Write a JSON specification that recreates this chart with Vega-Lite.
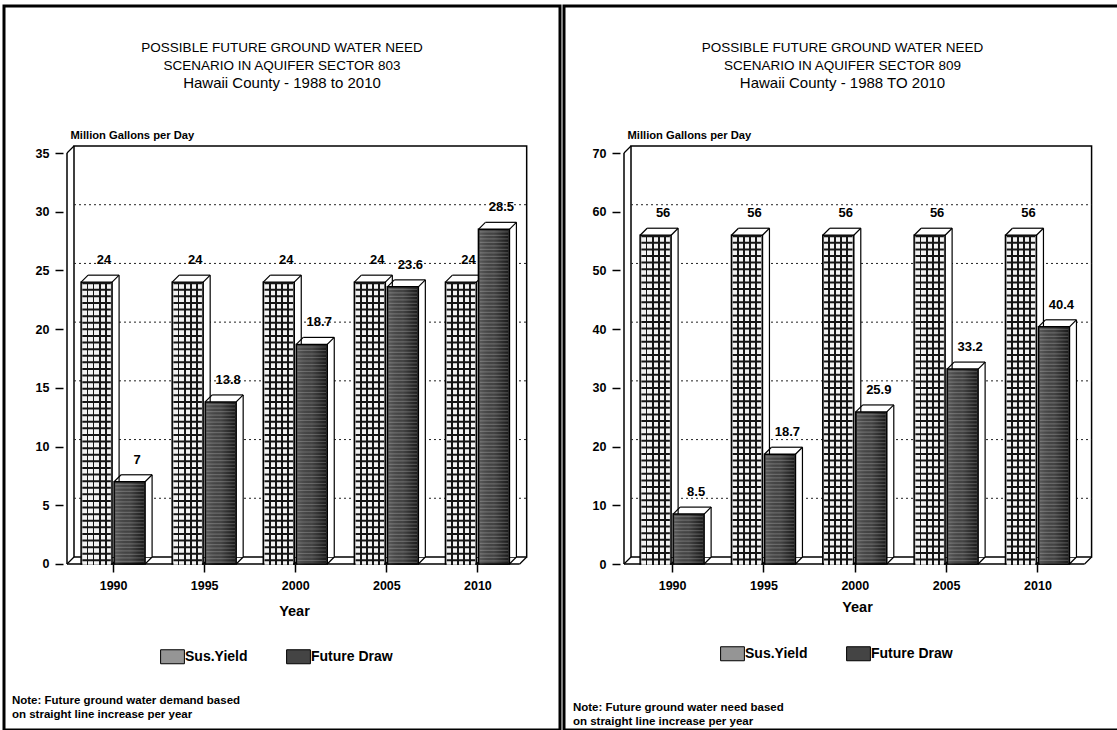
{
  "$schema": "https://vega.github.io/schema/vega-lite/v6.json",
  "background": "white",
  "padding": {"left": 2, "top": 4, "right": 0, "bottom": 0},
  "resolve": {"scale": {"color": "independent"}, "legend": {"color": "independent"}},
  "config": {
    "font": "Liberation Sans",
    "view": {"stroke": "black", "strokeWidth": 3},
    "concat": {"spacing": 0},
    "title": {
      "font": "Liberation Sans", "fontSize": 13.5, "fontWeight": "normal", "color": "black",
      "subtitleFont": "Liberation Sans", "subtitleFontSize": 15, "subtitleColor": "black",
      "anchor": "middle", "frame": "group", "offset": -85, "lineHeight": 18, "subtitlePadding": 4
    },
    "axis": {
      "labelFont": "Liberation Sans", "labelFontWeight": "bold", "labelColor": "black", "labelFontSize": 12.5,
      "titleFont": "Liberation Sans", "titleFontWeight": "bold", "titleColor": "black",
      "tickColor": "black", "tickWidth": 1.5, "tickSize": 8, "domain": false, "grid": false
    },
    "legend": {
      "labelFont": "Liberation Sans", "labelFontWeight": "bold", "labelColor": "black", "labelFontSize": 14
    }
  },
  "datasets": {
    "sector803": [
      {"year": 1990, "series": "Sus.Yield", "value": 24},
      {"year": 1990, "series": "Future Draw", "value": 7},
      {"year": 1995, "series": "Sus.Yield", "value": 24},
      {"year": 1995, "series": "Future Draw", "value": 13.8},
      {"year": 2000, "series": "Sus.Yield", "value": 24},
      {"year": 2000, "series": "Future Draw", "value": 18.7},
      {"year": 2005, "series": "Sus.Yield", "value": 24},
      {"year": 2005, "series": "Future Draw", "value": 23.6},
      {"year": 2010, "series": "Sus.Yield", "value": 24},
      {"year": 2010, "series": "Future Draw", "value": 28.5}
    ],
    "sector809": [
      {"year": 1990, "series": "Sus.Yield", "value": 56},
      {"year": 1990, "series": "Future Draw", "value": 8.5},
      {"year": 1995, "series": "Sus.Yield", "value": 56},
      {"year": 1995, "series": "Future Draw", "value": 18.7},
      {"year": 2000, "series": "Sus.Yield", "value": 56},
      {"year": 2000, "series": "Future Draw", "value": 25.9},
      {"year": 2005, "series": "Sus.Yield", "value": 56},
      {"year": 2005, "series": "Future Draw", "value": 33.2},
      {"year": 2010, "series": "Sus.Yield", "value": 56},
      {"year": 2010, "series": "Future Draw", "value": 40.4}
    ],
    "grid803": [{"value": 5}, {"value": 10}, {"value": 15}, {"value": 20}, {"value": 25}, {"value": 30}],
    "grid809": [{"value": 10}, {"value": 20}, {"value": 30}, {"value": 40}, {"value": 50}, {"value": 60}],
    "one": [{}]
  },
  "hconcat": [
    {
      "width": 556,
      "height": 724,
      "title": {
        "text": ["POSSIBLE FUTURE GROUND WATER NEED", "SCENARIO IN AQUIFER SECTOR 803"],
        "subtitle": "Hawaii County - 1988 to 2010"
      },
      "layer": [
        {
          "data": {"name": "one"},
          "mark": {"type": "rect", "fill": "white", "stroke": "black", "strokeWidth": 1.5,
                   "xOffset": 7, "x2Offset": 7, "yOffset": -7, "y2Offset": -7},
          "encoding": {"x": {"datum": 1987.47, "type": "quantitative"}, "x2": {"datum": 2012.32},
                       "y": {"datum": 0, "type": "quantitative"}, "y2": {"datum": 35}}
        },
        {
          "data": {"name": "grid803"},
          "mark": {"type": "rule", "stroke": "#222", "strokeWidth": 1, "strokeDash": [2, 3],
                   "xOffset": 7, "x2Offset": 7, "yOffset": -7},
          "encoding": {"x": {"datum": 1987.47, "type": "quantitative"}, "x2": {"datum": 2012.32},
                       "y": {"field": "value", "type": "quantitative"}}
        },
        {
          "data": {"name": "one"},
          "mark": {"type": "rule", "stroke": "black", "strokeWidth": 1.5},
          "encoding": {"x": {"datum": 1987.47, "type": "quantitative"},
                       "y": {"datum": 0, "type": "quantitative"}, "y2": {"datum": 35}}
        },
        {
          "data": {"name": "one"},
          "mark": {"type": "rule", "stroke": "black", "strokeWidth": 1.5},
          "encoding": {"x": {"datum": 1987.47, "type": "quantitative"}, "x2": {"datum": 2012.32},
                       "y": {"datum": 0, "type": "quantitative"}}
        },
        {
          "data": {"name": "one"},
          "mark": {"type": "rule", "stroke": "black", "strokeWidth": 1.2, "x2Offset": 7, "y2Offset": -7},
          "encoding": {"x": {"datum": 1987.47, "type": "quantitative"}, "x2": {"datum": 1987.47},
                       "y": {"datum": 35, "type": "quantitative"}, "y2": {"datum": 35}}
        },
        {
          "data": {"name": "one"},
          "mark": {"type": "rule", "stroke": "black", "strokeWidth": 1.2, "x2Offset": 7, "y2Offset": -7},
          "encoding": {"x": {"datum": 1987.47, "type": "quantitative"}, "x2": {"datum": 1987.47},
                       "y": {"datum": 0, "type": "quantitative"}, "y2": {"datum": 0}}
        },
        {
          "data": {"name": "one"},
          "mark": {"type": "rule", "stroke": "black", "strokeWidth": 1.2, "x2Offset": 7, "y2Offset": -7},
          "encoding": {"x": {"datum": 2012.32, "type": "quantitative"}, "x2": {"datum": 2012.32},
                       "y": {"datum": 0, "type": "quantitative"}, "y2": {"datum": 0}}
        },
        {
          "data": {"name": "sector803"},
          "transform": [{"filter": "datum.series === 'Sus.Yield'"}],
          "mark": {"type": "rule", "stroke": "black", "strokeWidth": 1.2, "xOffset": -1, "x2Offset": 6, "y2Offset": -7},
          "encoding": {"x": {"field": "year", "type": "quantitative"}, "x2": {"field": "year"},
                       "y": {"datum": 0, "type": "quantitative"}, "y2": {"datum": 0}}
        },
        {
          "data": {"name": "sector803"},
          "transform": [{"filter": "datum.series === 'Future Draw'"}],
          "mark": {"type": "rule", "stroke": "black", "strokeWidth": 1.2, "xOffset": 32, "x2Offset": 39, "y2Offset": -7},
          "encoding": {"x": {"field": "year", "type": "quantitative"}, "x2": {"field": "year"},
                       "y": {"datum": 0, "type": "quantitative"}, "y2": {"datum": 0}}
        },
        {
          "data": {"name": "sector803"},
          "encoding": {
            "x": {
              "field": "year", "type": "quantitative",
              "scale": {"domain": [1984.286, 2014.259], "nice": false, "zero": false},
              "axis": {
                "values": [1990, 1995, 2000, 2005, 2010], "format": "d", "offset": -166,
                "labelPadding": 7, "labelFlush": false,
                "title": "Year", "titleFontSize": 14.5, "titleX": 290, "titleY": 47, "titleBaseline": "middle"
              }
            },
            "y": {
              "field": "value", "type": "quantitative",
              "scale": {"domain": [-14.14, 47.52], "nice": false, "zero": false},
              "axis": {
                "values": [0, 5, 10, 15, 20, 25, 30, 35], "offset": -59, "labelPadding": 6,
                "title": "Million Gallons per Day", "titleFontSize": 11.2, "titleAngle": 0,
                "titleAlign": "left", "titleBaseline": "alphabetic", "titleX": 7, "titleY": 132
              }
            }
          },
          "layer": [
            {
              "transform": [{"filter": "datum.series === 'Sus.Yield'"}],
              "mark": {"type": "bar", "width": 31, "fill": "white", "strokeWidth": 0,
                       "xOffset": -9.5, "yOffset": -7, "y2Offset": -7}
            },
            {
              "transform": [{"filter": "datum.series === 'Sus.Yield'"}],
              "mark": {"type": "rule", "stroke": "black", "strokeWidth": 1.2, "xOffset": -25, "x2Offset": 6, "yOffset": -7, "y2Offset": -7},
              "encoding": {"x2": {"field": "year"}, "y2": {"field": "value"}}
            },
            {
              "transform": [{"filter": "datum.series === 'Sus.Yield'"}],
              "mark": {"type": "rule", "stroke": "black", "strokeWidth": 1.2, "xOffset": 6, "yOffset": -7, "y2Offset": -7},
              "encoding": {"y2": {"datum": 0}}
            },
            {
              "transform": [{"filter": "datum.series === 'Sus.Yield'"}],
              "mark": {"type": "rule", "stroke": "black", "strokeWidth": 1.2, "xOffset": -32, "x2Offset": -25, "y2Offset": -7},
              "encoding": {"x2": {"field": "year"}, "y2": {"field": "value"}}
            },
            {
              "transform": [{"filter": "datum.series === 'Sus.Yield'"}],
              "mark": {"type": "rule", "stroke": "black", "strokeWidth": 1.2, "xOffset": -1, "x2Offset": 6, "y2Offset": -7},
              "encoding": {"x2": {"field": "year"}, "y2": {"field": "value"}}
            },
            {
              "transform": [{"filter": "datum.series === 'Sus.Yield'"}],
              "mark": {"type": "bar", "width": 31, "stroke": "black", "strokeWidth": 1.5, "xOffset": -16.5},
              "encoding": {
                "color": {
                  "field": "series", "type": "nominal",
                  "scale": {"domain": ["Sus.Yield", "Future Draw"], "range": ["#959595", "#444444"]},
                  "legend": {
                    "orient": "none", "legendX": 161, "legendY": 643, "direction": "horizontal", "title": null,
                    "symbolType": "M-1.7,-1H1.7V1H-1.7Z", "symbolSize": 196, "symbolStrokeColor": "black",
                    "symbolStrokeWidth": 1, "columnPadding": 36, "labelOffset": 5
                  }
                }
              }
            },
            {
              "transform": [{"filter": "datum.series === 'Sus.Yield'"}],
              "mark": {"type": "bar", "width": 28.5, "xOffset": -16.5, "yOffset": 0.8,
                       "fill": {"gradient": "linear", "x1": 0, "y1": 0, "x2": 1, "y2": 0,
                                "stops": [{"offset": 0, "color": "#f2f2f2"}, {"offset": 0.148, "color": "#f2f2f2"},
                                          {"offset": 0.148, "color": "#151515"}, {"offset": 0.213, "color": "#151515"},
                                          {"offset": 0.213, "color": "#f2f2f2"}, {"offset": 0.361, "color": "#f2f2f2"},
                                          {"offset": 0.361, "color": "#151515"}, {"offset": 0.426, "color": "#151515"},
                                          {"offset": 0.426, "color": "#f2f2f2"}, {"offset": 0.574, "color": "#f2f2f2"},
                                          {"offset": 0.574, "color": "#151515"}, {"offset": 0.639, "color": "#151515"},
                                          {"offset": 0.639, "color": "#f2f2f2"}, {"offset": 0.787, "color": "#f2f2f2"},
                                          {"offset": 0.787, "color": "#151515"}, {"offset": 0.852, "color": "#151515"},
                                          {"offset": 0.852, "color": "#f2f2f2"}, {"offset": 1, "color": "#f2f2f2"}]}}
            },
            {
              "transform": [{"filter": "datum.series === 'Sus.Yield'"}],
              "mark": {"type": "rule", "stroke": "#151515", "strokeWidth": 28.5, "strokeCap": "butt",
                       "strokeDash": [2, 4.6], "xOffset": -16.5},
              "encoding": {"y2": {"datum": 0}}
            },
            {
              "transform": [{"filter": "datum.series === 'Future Draw'"}],
              "mark": {"type": "bar", "width": 31, "fill": "white", "strokeWidth": 0,
                       "xOffset": 23.5, "yOffset": -7, "y2Offset": -7}
            },
            {
              "transform": [{"filter": "datum.series === 'Future Draw'"}],
              "mark": {"type": "rule", "stroke": "black", "strokeWidth": 1.2, "xOffset": 8, "x2Offset": 39, "yOffset": -7, "y2Offset": -7},
              "encoding": {"x2": {"field": "year"}, "y2": {"field": "value"}}
            },
            {
              "transform": [{"filter": "datum.series === 'Future Draw'"}],
              "mark": {"type": "rule", "stroke": "black", "strokeWidth": 1.2, "xOffset": 39, "yOffset": -7, "y2Offset": -7},
              "encoding": {"y2": {"datum": 0}}
            },
            {
              "transform": [{"filter": "datum.series === 'Future Draw'"}],
              "mark": {"type": "rule", "stroke": "black", "strokeWidth": 1.2, "xOffset": 1, "x2Offset": 8, "y2Offset": -7},
              "encoding": {"x2": {"field": "year"}, "y2": {"field": "value"}}
            },
            {
              "transform": [{"filter": "datum.series === 'Future Draw'"}],
              "mark": {"type": "rule", "stroke": "black", "strokeWidth": 1.2, "xOffset": 32, "x2Offset": 39, "y2Offset": -7},
              "encoding": {"x2": {"field": "year"}, "y2": {"field": "value"}}
            },
            {
              "transform": [{"filter": "datum.series === 'Future Draw'"}],
              "mark": {"type": "bar", "width": 31, "stroke": "black", "strokeWidth": 1.5, "xOffset": 16.5},
              "encoding": {
                "color": {
                  "field": "series", "type": "nominal",
                  "scale": {"domain": ["Sus.Yield", "Future Draw"], "range": ["#959595", "#444444"]},
                  "legend": {
                    "orient": "none", "legendX": 161, "legendY": 643, "direction": "horizontal", "title": null,
                    "symbolType": "M-1.7,-1H1.7V1H-1.7Z", "symbolSize": 196, "symbolStrokeColor": "black",
                    "symbolStrokeWidth": 1, "columnPadding": 36, "labelOffset": 5
                  }
                }
              }
            },
            {
              "transform": [{"filter": "datum.series === 'Future Draw'"}],
              "mark": {"type": "bar", "width": 28.5, "xOffset": 16.5, "yOffset": 0.8,
                       "fill": {"gradient": "linear", "x1": 0, "y1": 0, "x2": 1, "y2": 0,
                                "stops": [{"offset": 0, "color": "rgba(255,255,255,0.12)"},
                                          {"offset": 0.5, "color": "rgba(0,0,0,0)"},
                                          {"offset": 1, "color": "rgba(0,0,0,0.6)"}]}}
            },
            {
              "transform": [{"filter": "datum.series === 'Future Draw'"}],
              "mark": {"type": "rule", "stroke": "rgba(255,255,255,0.2)", "strokeWidth": 28.5, "strokeCap": "butt",
                       "strokeDash": [1.2, 2.3], "xOffset": 16.5, "yOffset": 2},
              "encoding": {"y2": {"datum": 0}}
            },
            {
              "transform": [{"filter": "datum.series === 'Sus.Yield'"}],
              "mark": {"type": "text", "font": "Liberation Sans", "fontWeight": "bold", "fontSize": 13,
                       "baseline": "bottom", "xOffset": -9, "yOffset": -15, "color": "black"},
              "encoding": {"text": {"field": "value", "type": "quantitative"}}
            },
            {
              "transform": [{"filter": "datum.series === 'Future Draw'"}],
              "mark": {"type": "text", "font": "Liberation Sans", "fontWeight": "bold", "fontSize": 13,
                       "baseline": "bottom", "xOffset": 24, "yOffset": -15, "color": "black"},
              "encoding": {"text": {"field": "value", "type": "quantitative"}}
            }
          ]
        },
        {
          "data": {"name": "one"},
          "mark": {"type": "text", "font": "Liberation Sans", "fontWeight": "bold", "fontSize": 11.5,
                   "align": "left", "baseline": "top", "lineHeight": 14, "color": "black"},
          "encoding": {
            "x": {"datum": 1984.448, "type": "quantitative"}, "y": {"datum": -11.16, "type": "quantitative"},
            "text": {"value": ["Note: Future ground water demand based", "on straight line increase per year"]}
          }
        }
      ]
    },
    {
      "width": 557,
      "height": 724,
      "title": {
        "text": ["POSSIBLE FUTURE GROUND WATER NEED", "SCENARIO IN AQUIFER SECTOR 809"],
        "subtitle": "Hawaii County - 1988 TO 2010"
      },
      "layer": [
        {
          "data": {"name": "one"},
          "mark": {"type": "rect", "fill": "white", "stroke": "black", "strokeWidth": 1.5,
                   "xOffset": 7, "x2Offset": 7, "yOffset": -7, "y2Offset": -7},
          "encoding": {"x": {"datum": 1987.366, "type": "quantitative"}, "x2": {"datum": 2012.58},
                       "y": {"datum": 0, "type": "quantitative"}, "y2": {"datum": 70}}
        },
        {
          "data": {"name": "grid809"},
          "mark": {"type": "rule", "stroke": "#222", "strokeWidth": 1, "strokeDash": [2, 3],
                   "xOffset": 7, "x2Offset": 7, "yOffset": -7},
          "encoding": {"x": {"datum": 1987.366, "type": "quantitative"}, "x2": {"datum": 2012.58},
                       "y": {"field": "value", "type": "quantitative"}}
        },
        {
          "data": {"name": "one"},
          "mark": {"type": "rule", "stroke": "black", "strokeWidth": 1.5},
          "encoding": {"x": {"datum": 1987.366, "type": "quantitative"},
                       "y": {"datum": 0, "type": "quantitative"}, "y2": {"datum": 70}}
        },
        {
          "data": {"name": "one"},
          "mark": {"type": "rule", "stroke": "black", "strokeWidth": 1.5},
          "encoding": {"x": {"datum": 1987.366, "type": "quantitative"}, "x2": {"datum": 2012.58},
                       "y": {"datum": 0, "type": "quantitative"}}
        },
        {
          "data": {"name": "one"},
          "mark": {"type": "rule", "stroke": "black", "strokeWidth": 1.2, "x2Offset": 7, "y2Offset": -7},
          "encoding": {"x": {"datum": 1987.366, "type": "quantitative"}, "x2": {"datum": 1987.366},
                       "y": {"datum": 70, "type": "quantitative"}, "y2": {"datum": 70}}
        },
        {
          "data": {"name": "one"},
          "mark": {"type": "rule", "stroke": "black", "strokeWidth": 1.2, "x2Offset": 7, "y2Offset": -7},
          "encoding": {"x": {"datum": 1987.366, "type": "quantitative"}, "x2": {"datum": 1987.366},
                       "y": {"datum": 0, "type": "quantitative"}, "y2": {"datum": 0}}
        },
        {
          "data": {"name": "one"},
          "mark": {"type": "rule", "stroke": "black", "strokeWidth": 1.2, "x2Offset": 7, "y2Offset": -7},
          "encoding": {"x": {"datum": 2012.58, "type": "quantitative"}, "x2": {"datum": 2012.58},
                       "y": {"datum": 0, "type": "quantitative"}, "y2": {"datum": 0}}
        },
        {
          "data": {"name": "sector809"},
          "transform": [{"filter": "datum.series === 'Sus.Yield'"}],
          "mark": {"type": "rule", "stroke": "black", "strokeWidth": 1.2, "xOffset": -1, "x2Offset": 6, "y2Offset": -7},
          "encoding": {"x": {"field": "year", "type": "quantitative"}, "x2": {"field": "year"},
                       "y": {"datum": 0, "type": "quantitative"}, "y2": {"datum": 0}}
        },
        {
          "data": {"name": "sector809"},
          "transform": [{"filter": "datum.series === 'Future Draw'"}],
          "mark": {"type": "rule", "stroke": "black", "strokeWidth": 1.2, "xOffset": 32, "x2Offset": 39, "y2Offset": -7},
          "encoding": {"x": {"field": "year", "type": "quantitative"}, "x2": {"field": "year"},
                       "y": {"datum": 0, "type": "quantitative"}, "y2": {"datum": 0}}
        },
        {
          "data": {"name": "sector809"},
          "encoding": {
            "x": {
              "field": "year", "type": "quantitative",
              "scale": {"domain": [1984.355, 2014.30], "nice": false, "zero": false},
              "axis": {
                "values": [1990, 1995, 2000, 2005, 2010], "format": "d", "offset": -166,
                "labelPadding": 7, "labelFlush": false,
                "title": "Year", "titleFontSize": 14.5, "titleX": 293, "titleY": 43, "titleBaseline": "middle"
              }
            },
            "y": {
              "field": "value", "type": "quantitative",
              "scale": {"domain": [-28.27, 95.04], "nice": false, "zero": false},
              "axis": {
                "values": [0, 10, 20, 30, 40, 50, 60, 70], "offset": -56, "labelPadding": 6,
                "title": "Million Gallons per Day", "titleFontSize": 11.2, "titleAngle": 0,
                "titleAlign": "left", "titleBaseline": "alphabetic", "titleX": 7, "titleY": 132
              }
            }
          },
          "layer": [
            {
              "transform": [{"filter": "datum.series === 'Sus.Yield'"}],
              "mark": {"type": "bar", "width": 31, "fill": "white", "strokeWidth": 0,
                       "xOffset": -9.5, "yOffset": -7, "y2Offset": -7}
            },
            {
              "transform": [{"filter": "datum.series === 'Sus.Yield'"}],
              "mark": {"type": "rule", "stroke": "black", "strokeWidth": 1.2, "xOffset": -25, "x2Offset": 6, "yOffset": -7, "y2Offset": -7},
              "encoding": {"x2": {"field": "year"}, "y2": {"field": "value"}}
            },
            {
              "transform": [{"filter": "datum.series === 'Sus.Yield'"}],
              "mark": {"type": "rule", "stroke": "black", "strokeWidth": 1.2, "xOffset": 6, "yOffset": -7, "y2Offset": -7},
              "encoding": {"y2": {"datum": 0}}
            },
            {
              "transform": [{"filter": "datum.series === 'Sus.Yield'"}],
              "mark": {"type": "rule", "stroke": "black", "strokeWidth": 1.2, "xOffset": -32, "x2Offset": -25, "y2Offset": -7},
              "encoding": {"x2": {"field": "year"}, "y2": {"field": "value"}}
            },
            {
              "transform": [{"filter": "datum.series === 'Sus.Yield'"}],
              "mark": {"type": "rule", "stroke": "black", "strokeWidth": 1.2, "xOffset": -1, "x2Offset": 6, "y2Offset": -7},
              "encoding": {"x2": {"field": "year"}, "y2": {"field": "value"}}
            },
            {
              "transform": [{"filter": "datum.series === 'Sus.Yield'"}],
              "mark": {"type": "bar", "width": 31, "stroke": "black", "strokeWidth": 1.5, "xOffset": -16.5},
              "encoding": {
                "color": {
                  "field": "series", "type": "nominal",
                  "scale": {"domain": ["Sus.Yield", "Future Draw"], "range": ["#959595", "#444444"]},
                  "legend": {
                    "orient": "none", "legendX": 161, "legendY": 640, "direction": "horizontal", "title": null,
                    "symbolType": "M-1.7,-1H1.7V1H-1.7Z", "symbolSize": 196, "symbolStrokeColor": "black",
                    "symbolStrokeWidth": 1, "columnPadding": 36, "labelOffset": 5
                  }
                }
              }
            },
            {
              "transform": [{"filter": "datum.series === 'Sus.Yield'"}],
              "mark": {"type": "bar", "width": 28.5, "xOffset": -16.5, "yOffset": 0.8,
                       "fill": {"gradient": "linear", "x1": 0, "y1": 0, "x2": 1, "y2": 0,
                                "stops": [{"offset": 0, "color": "#f2f2f2"}, {"offset": 0.148, "color": "#f2f2f2"},
                                          {"offset": 0.148, "color": "#151515"}, {"offset": 0.213, "color": "#151515"},
                                          {"offset": 0.213, "color": "#f2f2f2"}, {"offset": 0.361, "color": "#f2f2f2"},
                                          {"offset": 0.361, "color": "#151515"}, {"offset": 0.426, "color": "#151515"},
                                          {"offset": 0.426, "color": "#f2f2f2"}, {"offset": 0.574, "color": "#f2f2f2"},
                                          {"offset": 0.574, "color": "#151515"}, {"offset": 0.639, "color": "#151515"},
                                          {"offset": 0.639, "color": "#f2f2f2"}, {"offset": 0.787, "color": "#f2f2f2"},
                                          {"offset": 0.787, "color": "#151515"}, {"offset": 0.852, "color": "#151515"},
                                          {"offset": 0.852, "color": "#f2f2f2"}, {"offset": 1, "color": "#f2f2f2"}]}}
            },
            {
              "transform": [{"filter": "datum.series === 'Sus.Yield'"}],
              "mark": {"type": "rule", "stroke": "#151515", "strokeWidth": 28.5, "strokeCap": "butt",
                       "strokeDash": [2, 4.6], "xOffset": -16.5},
              "encoding": {"y2": {"datum": 0}}
            },
            {
              "transform": [{"filter": "datum.series === 'Future Draw'"}],
              "mark": {"type": "bar", "width": 31, "fill": "white", "strokeWidth": 0,
                       "xOffset": 23.5, "yOffset": -7, "y2Offset": -7}
            },
            {
              "transform": [{"filter": "datum.series === 'Future Draw'"}],
              "mark": {"type": "rule", "stroke": "black", "strokeWidth": 1.2, "xOffset": 8, "x2Offset": 39, "yOffset": -7, "y2Offset": -7},
              "encoding": {"x2": {"field": "year"}, "y2": {"field": "value"}}
            },
            {
              "transform": [{"filter": "datum.series === 'Future Draw'"}],
              "mark": {"type": "rule", "stroke": "black", "strokeWidth": 1.2, "xOffset": 39, "yOffset": -7, "y2Offset": -7},
              "encoding": {"y2": {"datum": 0}}
            },
            {
              "transform": [{"filter": "datum.series === 'Future Draw'"}],
              "mark": {"type": "rule", "stroke": "black", "strokeWidth": 1.2, "xOffset": 1, "x2Offset": 8, "y2Offset": -7},
              "encoding": {"x2": {"field": "year"}, "y2": {"field": "value"}}
            },
            {
              "transform": [{"filter": "datum.series === 'Future Draw'"}],
              "mark": {"type": "rule", "stroke": "black", "strokeWidth": 1.2, "xOffset": 32, "x2Offset": 39, "y2Offset": -7},
              "encoding": {"x2": {"field": "year"}, "y2": {"field": "value"}}
            },
            {
              "transform": [{"filter": "datum.series === 'Future Draw'"}],
              "mark": {"type": "bar", "width": 31, "stroke": "black", "strokeWidth": 1.5, "xOffset": 16.5},
              "encoding": {
                "color": {
                  "field": "series", "type": "nominal",
                  "scale": {"domain": ["Sus.Yield", "Future Draw"], "range": ["#959595", "#444444"]},
                  "legend": {
                    "orient": "none", "legendX": 161, "legendY": 640, "direction": "horizontal", "title": null,
                    "symbolType": "M-1.7,-1H1.7V1H-1.7Z", "symbolSize": 196, "symbolStrokeColor": "black",
                    "symbolStrokeWidth": 1, "columnPadding": 36, "labelOffset": 5
                  }
                }
              }
            },
            {
              "transform": [{"filter": "datum.series === 'Future Draw'"}],
              "mark": {"type": "bar", "width": 28.5, "xOffset": 16.5, "yOffset": 0.8,
                       "fill": {"gradient": "linear", "x1": 0, "y1": 0, "x2": 1, "y2": 0,
                                "stops": [{"offset": 0, "color": "rgba(255,255,255,0.12)"},
                                          {"offset": 0.5, "color": "rgba(0,0,0,0)"},
                                          {"offset": 1, "color": "rgba(0,0,0,0.6)"}]}}
            },
            {
              "transform": [{"filter": "datum.series === 'Future Draw'"}],
              "mark": {"type": "rule", "stroke": "rgba(255,255,255,0.2)", "strokeWidth": 28.5, "strokeCap": "butt",
                       "strokeDash": [1.2, 2.3], "xOffset": 16.5, "yOffset": 2},
              "encoding": {"y2": {"datum": 0}}
            },
            {
              "transform": [{"filter": "datum.series === 'Sus.Yield'"}],
              "mark": {"type": "text", "font": "Liberation Sans", "fontWeight": "bold", "fontSize": 13,
                       "baseline": "bottom", "xOffset": -9, "yOffset": -15, "color": "black"},
              "encoding": {"text": {"field": "value", "type": "quantitative"}}
            },
            {
              "transform": [{"filter": "datum.series === 'Future Draw'"}],
              "mark": {"type": "text", "font": "Liberation Sans", "fontWeight": "bold", "fontSize": 13,
                       "baseline": "bottom", "xOffset": 24, "yOffset": -15, "color": "black"},
              "encoding": {"text": {"field": "value", "type": "quantitative"}}
            }
          ]
        },
        {
          "data": {"name": "one"},
          "mark": {"type": "text", "font": "Liberation Sans", "fontWeight": "bold", "fontSize": 11.5,
                   "align": "left", "baseline": "top", "lineHeight": 14, "color": "black"},
          "encoding": {
            "x": {"datum": 1984.57, "type": "quantitative"}, "y": {"datum": -23.5, "type": "quantitative"},
            "text": {"value": ["Note:  Future ground water need based", "on straight line increase per year"]}
          }
        }
      ]
    }
  ]
}
